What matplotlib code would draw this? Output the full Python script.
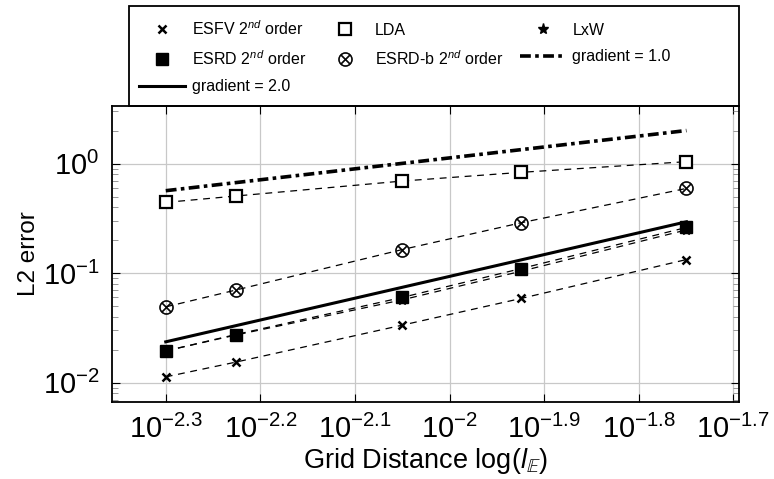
import matplotlib

matplotlib.use("Agg")
import matplotlib.pyplot as plt
from matplotlib.lines import Line2D
from matplotlib.patches import Rectangle
from matplotlib.ticker import NullLocator

plt.rcParams["font.family"] = ["Liberation Sans", "DejaVu Sans"]
plt.rcParams["mathtext.fontset"] = "custom"
plt.rcParams["mathtext.rm"] = "Liberation Sans"
plt.rcParams["mathtext.it"] = "Liberation Sans:italic"
plt.rcParams["mathtext.bf"] = "Liberation Sans:bold"

# grid spacing
h = [0.00501, 0.00594, 0.00891, 0.0119, 0.0178]

esfv = [0.0113, 0.0154, 0.0335, 0.0587, 0.133]
lda = [0.442, 0.505, 0.692, 0.831, 1.04]
lxw = [0.0195, 0.0272, 0.057, 0.104, 0.248]
esrd = [0.0195, 0.0275, 0.060, 0.110, 0.261]
esrd_b = [0.0492, 0.070, 0.164, 0.288, 0.593]

# reference slopes, drawn between first and last grid spacing
grad_h = [0.00501, 0.0178]
grad1 = [0.565, 2.0]
grad2 = [0.0236, 0.294]

xticks = [-2.3, -2.2, -2.1, -2.0, -1.9, -1.8, -1.7]
xtick_labels = [r"$10^{-2.3}$", r"$10^{-2.2}$", r"$10^{-2.1}$", r"$10^{-2}$",
                r"$10^{-1.9}$", r"$10^{-1.8}$", r"$10^{-1.7}$"]

fig = plt.figure(figsize=(7.74, 4.79), dpi=100)
ax = fig.add_axes([0.1447, 0.1608, 0.8101, 0.6179])

dash = (0, (5.5, 4.5))
lw = 0.9
otimes = r"$\bigotimes$"

# marker styles, shared by the plot and the legend proxies
st_esfv = dict(marker="x", markersize=6, markeredgewidth=1.8, color="black")
st_lda = dict(marker="s", markersize=9, markerfacecolor="white",
              markeredgewidth=1.6, color="black")
st_lxw = dict(marker="*", markersize=8, color="black")
st_esrd = dict(marker="s", markersize=9, color="black")
st_esrdb = dict(marker=otimes, markersize=10, markeredgewidth=0.5, color="black")

ax.plot(h, esfv, lw=lw, linestyle=dash, **st_esfv)
ax.plot(h, lda, lw=lw, linestyle=dash, **st_lda)
ax.plot(h, lxw, lw=lw, linestyle=dash, **st_lxw)
ax.plot(h, esrd, lw=lw, linestyle=dash, **st_esrd)
ax.plot(h, esrd_b, lw=lw, linestyle=dash, **st_esrdb)
g1_style = dict(color="black", lw=2.6, linestyle=(0, (3, 1.2, 1, 1.2)))
g2_style = dict(color="black", lw=2.2)
ax.plot(grad_h, grad1, **g1_style)
ax.plot(grad_h, grad2, **g2_style)

ax.set_xscale("log")
ax.set_yscale("log")
ax.set_xlim(10 ** -2.357, 10 ** -1.694)
ax.set_ylim(10 ** -2.176, 10 ** 0.525)
ax.set_xticks([10 ** v for v in xticks])
ax.set_xticklabels(xtick_labels)
ax.xaxis.set_minor_locator(NullLocator())
ax.tick_params(axis="both", which="both", direction="in", right=True, top=True)
ax.tick_params(axis="both", which="major", length=6, labelsize=21, pad=9)
ax.tick_params(axis="y", which="minor", length=4, color="#888888")
ax.grid(True, which="major", color="#c8c8c8", lw=0.9)
for s in ax.spines.values():
    s.set_linewidth(1.3)

ax.set_xlabel(r"Grid Distance $\log(l_{\mathbb{E}})$", fontsize=19.5, labelpad=2)
ax.set_ylabel("L2 error", fontsize=17.5, labelpad=2)

# legend: markers only for the data series, lines for the gradients
def proxy(style):
    return Line2D([], [], linestyle="none", **style)

handles = [proxy(st_esfv), proxy(st_esrd), Line2D([], [], **g2_style),
           proxy(st_lda), proxy(st_esrdb), proxy(st_lxw),
           Line2D([], [], **g1_style)]
labels = [r"ESFV 2$^{nd}$ order", r"ESRD 2$^{nd}$ order", "gradient = 2.0",
          "LDA", r"ESRD-b 2$^{nd}$ order", "LxW", "gradient = 1.0"]
fig.legend(handles, labels, ncol=3, loc="upper left",
           bbox_to_anchor=(139 / 774, 1 - 19 / 479), borderaxespad=0,
           borderpad=0, fontsize=11.5, handlelength=2.9, handletextpad=0.4,
           columnspacing=1.0, labelspacing=0.72, frameon=False)

# legend box spanning the axes width
fig.add_artist(Rectangle((129 / 774, 0.7787), 0.9548 - 129 / 774,
                         1 - 6 / 479 - 0.7787, transform=fig.transFigure,
                         fill=False, edgecolor="black", lw=1.3))

fig.savefig("out.png", dpi=100)
